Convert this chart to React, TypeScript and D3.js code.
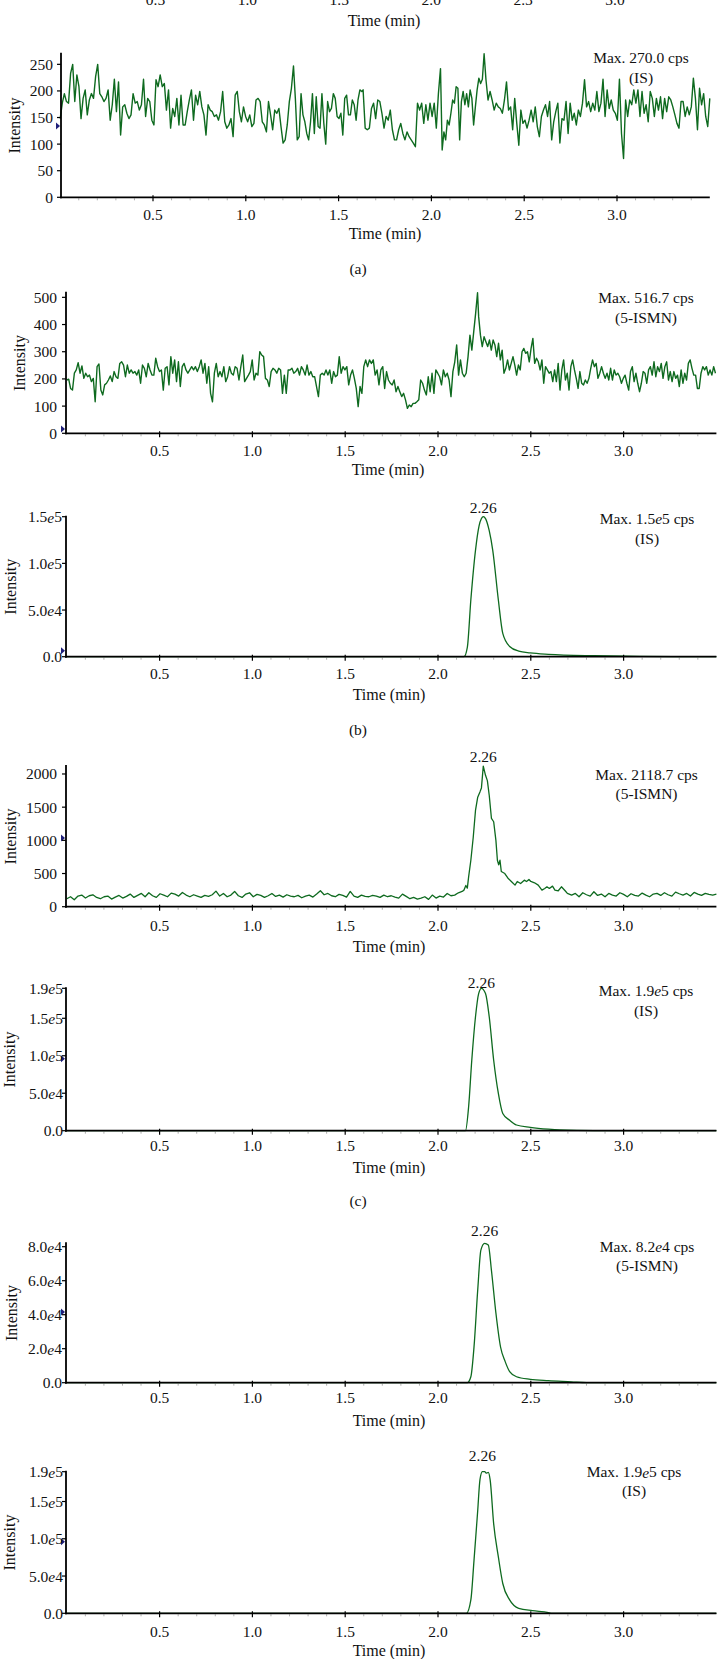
import React from "react";
import * as d3 from "d3";

// ---------------- data ----------------
const timeTicks = [0.5, 1.0, 1.5, 2.0, 2.5, 3.0];
const timeTickLabels = ["0.5", "1.0", "1.5", "2.0", "2.5", "3.0"];

// (a) IS noisy trace, read in segments (values in cps)
const aIS_s1 = [148,177,195,180,177,233,250,180,230,208,148,186,202,155,183,195,186,227,250,195,189,180,186,202,145,174,222,161,217,117,170,174,158,148,155,195,177,180,164,174,222,152,186,180,145,136,221,208,230,208,214,164,202,130,167,152,186,136,192,136,136,161,183,202,145,192,174,199,170,155,117,174,164,161,152,155,145,161,199,142,130,136,148,114,192,199,161,142,170,152,142,155,133,139,183,186,180,142,136,123,180,155,127,164,158,167,133,102,108,136,180,205,247];
const aIS_s2 = [186,108,114,195,155,142,120,108,142,195,120,189,133,130,195,139,100,180,161,167,195,186,152,148,158,117,186,192,155,155,183,174,145,183,202,199];
const aIS_s3 = [202,130,127,130,167,177,148,183,180,158,130,152,145,164,127,108,108,127,139,120,108,123,114,108,102,95,177,164,177,139,174,145,177,152,177,130,195,242];
const aIS_s4 = [89,123,108,145,136,158,183,177,208,205,108,180,199,174,195,170,202,186,136,170,202,224,214,222,270];
const aIS_s5 = [221,183,199,183,164,177,170,167,158,183,217,164,170,127,186,139,98,164,139,145,130,145,164,142,170,133,114,152,164,174,152,180,108,142,161,177,102,148,145,180,120,177,145,158,136,164,152,177,221,170,180,161,177,164,199,161,177,222,152,202,167,183,164,158,145,222,120,73,183,152,183,174,202,177,202,152,199,158,174,142,199,186,152,186,164,189,148,186,161,189,183,170,155,139,130,180,180,152,170,155,170,224,186,127,205,174,195,152,133,186];

// (b) 5-ISMN noisy trace
const b5_s1 = [196,199,165,159,221,233,260,221,248,202,221,208,214,190,202,116,245,255,159,141,178,184,196,211,190,227,208,202,257,263,251,208,251,221,233,221,227,214,233,184,251,239,208,257,233,214,214,276,245,227,233,159,239,245,178,282,221,270,190,263,172,245,257,233,221,233,245,233,245,227,245,270,221,257,184,245,147,116,221,257,208,227,208,245,190,208,245,221,214,245,239,196,245,288,190,202,214,227,270,196,221,214,300,288,282,202,196,172,227,239,233,221,239,233,147,214,147,233,233,239,221,227,239,214,245,233,214,251,214,227,208,208,172,135,214,221,214,233,214,233,184,227,208,214,282,221,245,233,245,178,214,233,202,165,98,172];
const b5_s2 = [147,245,270,245,270,257,270,214,233,178,233,245,165,227,196,184,178,196,153,172,153,135,147,123,92,104,98,110,110,116,123,196,184,159,141,208,153,221,147,233,221,208,178,233,208,221,196,135,227,263,325,214,270,221,208,221,282,361,306,374,441,516.7];
const b5_s3 = [429,361,319,355,337,319,343,306,343,325,282,331,270,306,221,239,270,233,257,282,251,214,251,233,300,312,294,300,263,312,349,257,276,263,233,270,184,245,233,221,227,190,233,190,257,159,233,270,196,221,159,245,270,233,202,165,227,184,178,196,184,202,239,270,245,257,202,221,245,221,202,221,196,239,196,233,214,221,208,184,202,214,184,159,227,245,190,221,184,153,184,227,221,184,233,245,214,263,208,245,227,257,202,245,263,196,227,190,227,202,214,172,233,184,221,196,257,270,239,214,214,165,165,221,245,233,245,214,233,214,245,221];

// (b) IS peak  [time, cps]
const bIS: [number, number][] = [[0,0],[2.14,0],[2.158,1.0e4],[2.177,6.1e4],[2.202,1.14e5],[2.221,1.4e5],[2.234,1.48e5],[2.244,1.5e5],[2.256,1.48e5],[2.276,1.35e5],[2.295,1.14e5],[2.325,6.1e4],[2.349,2.5e4],[2.386,1.1e4],[2.435,6e3],[2.497,4e3],[2.595,2.5e3],[2.841,1e3],[3.087,400],[3.3,0],[3.5,0]];

// (c) 5-ISMN trace: baseline, peak, tail
const c5_base = [120,150,105,160,175,130,165,180,140,120,150,160,115,145,170,130,155,190,140,170,200,150,210,165,140,195,175,150,205,190,160,215,175,150,180,160,140,170,155,180,235,160,200,150,175,230,165,140,190,210,150,185,170,140,165,200,155,175,145,180,160,150,170,135,160,175,145,190,240,180,200,165,150,185,170,145,230,160,140,175,155,150,170,160,140,175,150,165,145,130,190,155,120,140,115,130,150,110,175,130,160,145,200,165,175,210,230];
const c5_peak: [number, number][] = [[2.14,250],[2.15,320],[2.158,280],[2.165,450],[2.177,700],[2.19,1050],[2.202,1450],[2.214,1650],[2.226,1730],[2.234,1790],[2.244,2118.7],[2.256,1980],[2.266,1900],[2.276,1680],[2.288,1330],[2.300,1280],[2.312,1000],[2.320,700],[2.327,630],[2.334,700],[2.341,530],[2.36,500],[2.377,430],[2.395,380],[2.415,325],[2.427,380],[2.445,350],[2.465,400],[2.477,380],[2.49,410],[2.5,380],[2.52,360],[2.54,325],[2.56,250],[2.575,275],[2.587,300],[2.6,275],[2.617,310],[2.63,250],[2.648,240],[2.665,300],[2.685,240],[2.697,200]];
const c5_tail = [175,200,150,210,180,160,225,170,190,150,200,175,160,210,185,150,195,170,160,205,175,150,190,200,170,210,180,160,220,195,175,200,160,215,190,170,200,185,175,190];

// (c) IS peak
const cIS: [number, number][] = [[0,0],[2.148,0],[2.165,3.2e4],[2.182,9.4e4],[2.202,1.52e5],[2.219,1.83e5],[2.234,1.9e5],[2.256,1.83e5],[2.276,1.52e5],[2.300,9.4e4],[2.325,5e4],[2.349,2.3e4],[2.386,1.4e4],[2.423,7.6e3],[2.497,4.5e3],[2.595,2e3],[2.656,1e3],[2.841,0],[3.5,0]];

// (d) 5-ISMN peak
const d5: [number, number][] = [[0,0],[2.158,0],[2.177,3.5e3],[2.194,2.1e4],[2.214,5.45e4],[2.231,7.8e4],[2.251,8.2e4],[2.271,8.1e4],[2.288,6.6e4],[2.312,4.1e4],[2.337,2.1e4],[2.362,1.24e4],[2.386,6.5e3],[2.423,3.5e3],[2.497,2e3],[2.595,1.2e3],[2.718,500],[2.8,0],[3.5,0]];

// (d) IS peak
const dIS: [number, number][] = [[0,0],[2.153,0],[2.177,1.8e4],[2.194,7.1e4],[2.214,1.38e5],[2.226,1.79e5],[2.239,1.9e5],[2.251,1.9e5],[2.262,1.88e5],[2.271,1.89e5],[2.281,1.79e5],[2.300,1.2e5],[2.325,7.6e4],[2.349,4e4],[2.386,1.8e4],[2.435,6.7e3],[2.509,3.5e3],[2.595,1e3],[2.608,0],[3.5,0]];

// y ticks
const aTicks = [0, 50, 100, 150, 200, 250];
const aTickLabels = ["0", "50", "100", "150", "200", "250"];
const b5Ticks = [0, 100, 200, 300, 400, 500];
const b5TickLabels = ["0", "100", "200", "300", "400", "500"];
const bISTicks = [0, 5e4, 1e5, 1.5e5];
const bISTickLabels = ["0.0", "5.0e4", "1.0e5", "1.5e5"];
const c5Ticks = [0, 500, 1000, 1500, 2000];
const c5TickLabels = ["0", "500", "1000", "1500", "2000"];
const isTicks19 = [0, 5e4, 1e5, 1.5e5, 1.9e5];
const isTickLabels19 = ["0.0", "5.0e4", "1.0e5", "1.5e5", "1.9e5"];
const d5Ticks = [0, 2e4, 4e4, 6e4, 8e4];
const d5TickLabels = ["0.0", "2.0e4", "4.0e4", "6.0e4", "8.0e4"];

// maxima / annotations
const maxTexts = [
  ["Max. 270.0 cps", "(IS)"],
  ["Max. 516.7 cps", "(5-ISMN)"],
  ["Max. 1.5e5 cps", "(IS)"],
  ["Max. 2118.7 cps", "(5-ISMN)"],
  ["Max. 1.9e5 cps", "(IS)"],
  ["Max. 8.2e4 cps", "(5-ISMN)"],
  ["Max. 1.9e5 cps", "(IS)"],
];
const yMaxes = [270, 516.7, 1.5e5, 2118.7, 1.9e5, 8.2e4, 1.9e5];
const markerValues = [134, 16, 6.4e3, 1035, 9.6e4, 4.16e4, 9.6e4];
const peakLabel = "2.26";

// ---------------- helpers ----------------
function spread(vals: number[], t0: number, t1: number): [number, number][] {
  const n = vals.length;
  return vals.map((v, i) => [t0 + ((t1 - t0) * i) / (n - 1), v] as [number, number]);
}

const aISData = [
  ...spread(aIS_s1, 0, 1.257),
  ...spread(aIS_s2, 1.267, 1.625),
  ...spread(aIS_s3, 1.632, 2.049),
  ...spread(aIS_s4, 2.058, 2.284),
  ...spread(aIS_s5, 2.294, 3.5),
];
const b5Data = [
  ...spread(b5_s1, 0, 1.58),
  ...spread(b5_s2, 1.59, 2.213),
  ...spread(b5_s3, 2.219, 3.495),
];
const c5Data = [...spread(c5_base, 0, 2.13), ...c5_peak, ...spread(c5_tail, 2.72, 3.5)];

const GREEN = "#0e6a1f";
const FONT = "'Liberation Serif', 'Times New Roman', serif";

function Sci({ s }: { s: string }) {
  const parts = s.split(/(\d)e(\d)/);
  if (parts.length === 1) return <>{s}</>;
  // parts: pre, d1, d2, post
  const out: any[] = [];
  for (let i = 0; i < parts.length; i += 3) {
    out.push(<React.Fragment key={"p" + i}>{parts[i]}</React.Fragment>);
    if (i + 1 < parts.length) {
      out.push(<React.Fragment key={"a" + i}>{parts[i + 1]}</React.Fragment>);
      out.push(<tspan key={"e" + i} fontStyle="italic">e</tspan>);
      out.push(<React.Fragment key={"b" + i}>{parts[i + 2]}</React.Fragment>);
    }
  }
  return <>{out}</>;
}

type Layout = {
  data: [number, number][];
  smooth: boolean;
  sw: number;
  yMax: number;
  yTicks: number[];
  yLabels: string[];
  y0: number;
  yTop: number;
  xL: number;
  xR: number;
  axisX: number;
  gap: number;
  tickY: number;
  titleY: number;
  titleX: number;
  intX: number;
  max: string[];
  maxX: number;
  maxY: number[];
  marker: number;
  peakY?: number;
  caption?: { text: string; y: number };
};

function PanelView({ p }: { p: Layout }) {
  const x = d3.scaleLinear().domain([0, 3.5]).range([p.xL, p.xR]);
  const y = d3.scaleLinear().domain([0, p.yMax]).range([p.y0, p.yTop]);
  const line = d3
    .line<[number, number]>()
    .x((d) => x(d[0]))
    .y((d) => y(d[1]))
    .curve(p.smooth ? d3.curveMonotoneX : d3.curveLinear);
  const pathD = line(p.data.filter((d) => d[0] <= 3.5)) || "";
  const apex = p.data.reduce((a, b) => (b[1] > a[1] ? b : a));
  const minor = d3.range(1, 35).map((i) => i / 10).filter((t) => Math.abs(t * 2 - Math.round(t * 2)) > 1e-6);
  const mid = (p.y0 + p.yTop) / 2;
  const my = y(p.marker);
  return (
    <g>
      <path d={pathD} fill="none" stroke={GREEN} strokeWidth={p.sw} strokeLinejoin="round" />
      {/* minor x ticks */}
      {minor.map((t) => (
        <line key={"m" + t} x1={x(t)} x2={x(t)} y1={p.y0 + 1} y2={p.y0 + 3} stroke="#999" strokeWidth={0.8} />
      ))}
      {/* axes */}
      <line x1={p.axisX} x2={p.axisX} y1={p.y0 + 1} y2={p.yTop - 1} stroke="#000" strokeWidth={1.8} />
      <line x1={p.axisX - 1} x2={p.xR} y1={p.y0} y2={p.y0} stroke="#000" strokeWidth={1.8} />
      {/* marker */}
      <path d={`M${p.axisX - 5},${my - 3.5}L${p.axisX - 1},${my}L${p.axisX - 5},${my + 3.5}Z`} fill="#1f1f7a" />
      {/* y ticks */}
      {p.yTicks.map((v, i) => (
        <g key={"y" + v}>
          <line x1={p.axisX - 4} x2={p.axisX} y1={y(v)} y2={y(v)} stroke="#000" strokeWidth={1.2} />
          <text x={p.axisX - p.gap} y={y(v)} textAnchor="end" dominantBaseline="central" fontSize={15.5}>
            <Sci s={p.yLabels[i]} />
          </text>
        </g>
      ))}
      {/* x ticks */}
      {timeTicks.map((t, i) => (
        <g key={"x" + t}>
          <line x1={x(t)} x2={x(t)} y1={p.y0 - 2} y2={p.y0 + 4} stroke="#000" strokeWidth={1.2} />
          <text x={x(t)} y={p.tickY} textAnchor="middle" dominantBaseline="central" fontSize={15.5}>
            {timeTickLabels[i]}
          </text>
        </g>
      ))}
      <text x={p.titleX} y={p.titleY} textAnchor="middle" dominantBaseline="central" fontSize={16}>
        Time (min)
      </text>
      <text
        transform={`translate(${p.intX},${mid}) rotate(-90)`}
        textAnchor="middle"
        dominantBaseline="central"
        fontSize={16}
      >
        Intensity
      </text>
      {p.max.map((s, i) => (
        <text key={"mx" + i} x={p.maxX} y={p.maxY[i]} textAnchor="middle" dominantBaseline="central" fontSize={15.5}>
          <Sci s={s} />
        </text>
      ))}
      {p.peakY !== undefined && (
        <text x={x(apex[0])} y={p.peakY} textAnchor="middle" dominantBaseline="central" fontSize={15.5}>
          {peakLabel}
        </text>
      )}
      {p.caption && (
        <text x={358} y={p.caption.y} textAnchor="middle" dominantBaseline="central" fontSize={15.5}>
          {p.caption.text}
        </text>
      )}
    </g>
  );
}

export default function App() {
  const XL = 66.8;
  const XR = 66.8 + 3.5 * 185.6;
  const layouts: Layout[] = [
    { data: aISData, smooth: false, sw: 1.4, yMax: yMaxes[0], yTicks: aTicks, yLabels: aTickLabels, y0: 197.3, yTop: 53.7, xL: 60.2, xR: 709.8, axisX: 61, gap: 8, tickY: 214, titleY: 233, titleX: 385, intX: 14, max: maxTexts[0], maxX: 641, maxY: [57, 77], marker: markerValues[0], caption: { text: "(a)", y: 268 } },
    { data: b5Data, smooth: false, sw: 1.4, yMax: yMaxes[1], yTicks: b5Ticks, yLabels: b5TickLabels, y0: 433.3, yTop: 292.8, xL: XL, xR: XR, axisX: 66, gap: 9, tickY: 450.7, titleY: 469, titleX: 388, intX: 19, max: maxTexts[1], maxX: 646, maxY: [297, 317], marker: markerValues[1] },
    { data: bIS, smooth: true, sw: 1.3, yMax: yMaxes[2], yTicks: bISTicks, yLabels: bISTickLabels, y0: 656.7, yTop: 516.7, xL: XL, xR: XR, axisX: 66, gap: 4, tickY: 673, titleY: 694, titleX: 389, intX: 10, max: maxTexts[2], maxX: 647, maxY: [518, 538], marker: markerValues[2], peakY: 507, caption: { text: "(b)", y: 729 } },
    { data: c5Data, smooth: false, sw: 1.3, yMax: yMaxes[3], yTicks: c5Ticks, yLabels: c5TickLabels, y0: 906.7, yTop: 766.1, xL: XL, xR: XR, axisX: 66, gap: 9, tickY: 925.7, titleY: 946.7, titleX: 389, intX: 10, max: maxTexts[3], maxX: 646.5, maxY: [774, 793], marker: markerValues[3], peakY: 756 },
    { data: cIS, smooth: true, sw: 1.3, yMax: yMaxes[4], yTicks: isTicks19, yLabels: isTickLabels19, y0: 1130.7, yTop: 988.3, xL: XL, xR: XR, axisX: 66, gap: 3, tickY: 1145, titleY: 1167, titleX: 389, intX: 9, max: maxTexts[4], maxX: 646, maxY: [990, 1010.7], marker: markerValues[4], peakY: 982.7, caption: { text: "(c)", y: 1200 } },
    { data: d5, smooth: true, sw: 1.3, yMax: yMaxes[5], yTicks: d5Ticks, yLabels: d5TickLabels, y0: 1382.7, yTop: 1243.3, xL: XL, xR: XR, axisX: 66, gap: 4, tickY: 1397, titleY: 1420.7, titleX: 389, intX: 11, max: maxTexts[5], maxX: 647, maxY: [1246, 1265], marker: markerValues[5], peakY: 1230 },
    { data: dIS, smooth: true, sw: 1.3, yMax: yMaxes[6], yTicks: isTicks19, yLabels: isTickLabels19, y0: 1613.3, yTop: 1471.7, xL: XL, xR: XR, axisX: 66, gap: 3, tickY: 1631.7, titleY: 1650.7, titleX: 389, intX: 9, max: maxTexts[6], maxX: 634, maxY: [1471.7, 1490], marker: markerValues[6], peakY: 1455 },
  ];
  const topX = d3.scaleLinear().domain([0, 3.5]).range([63.6, 706.9]);
  return (
    <svg
      width={717}
      height={1659}
      viewBox="0 0 717 1659"
      style={{ position: "absolute", left: 0, top: 0, background: "#fff" }}
      fontFamily={FONT}
      fill="#111"
    >
      <rect x={0} y={0} width={717} height={1659} fill="#fff" />
      {/* cut-off axis of the panel above */}
      {timeTicks.map((t, i) => (
        <text key={"tt" + t} x={topX(t)} y={5} textAnchor="middle" fontSize={15.5}>
          {timeTickLabels[i]}
        </text>
      ))}
      <text x={384} y={20} textAnchor="middle" dominantBaseline="central" fontSize={16}>
        Time (min)
      </text>
      {layouts.map((p, i) => (
        <PanelView key={i} p={p} />
      ))}
    </svg>
  );
}
